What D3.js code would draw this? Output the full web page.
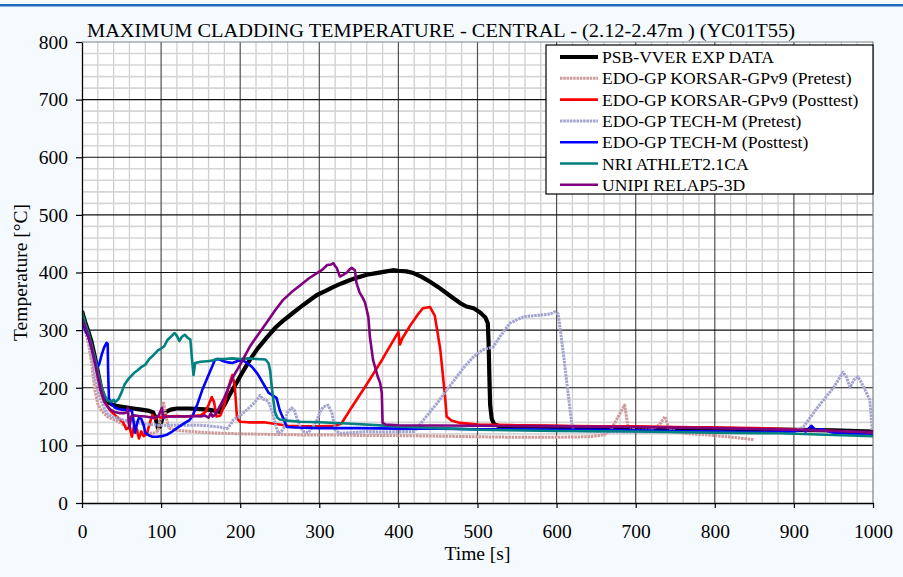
<!DOCTYPE html>
<html>
<head>
<meta charset="utf-8">
<script src="https://cdn.jsdelivr.net/npm/d3@7"></script>
<style>
  html, body { margin: 0; padding: 0; background: #f5faff; }
  svg { display: block; }
  text { font-family: "Liberation Serif", "Times New Roman", serif; fill: #000; }
</style>
</head>
<body>
<svg id="chart" width="903" height="577"></svg>
<script>
// Maximum cladding temperature, central channel (2.12-2.47 m), YC01T55
const chartTitle = "MAXIMUM CLADDING TEMPERATURE - CENTRAL - (2.12-2.47m ) (YC01T55)";
const xTicks = [0, 100, 200, 300, 400, 500, 600, 700, 800, 900, 1000];
const yTicks = [0, 100, 200, 300, 400, 500, 600, 700, 800];
const seriesNames = [
  "PSB-VVER EXP DATA",
  "EDO-GP KORSAR-GPv9 (Pretest)",
  "EDO-GP KORSAR-GPv9 (Posttest)",
  "EDO-GP TECH-M (Pretest)",
  "EDO-GP TECH-M (Posttest)",
  "NRI ATHLET2.1CA",
  "UNIPI RELAP5-3D"
];

// [time s, temperature °C]
const psbExp = [[0,333],[4,314],[8,298],[12,280],[16,255],[20,228],[24,200],[28,184],[32,176],[38,171],[45,168],[55,166],[65,164],[75,162],[85,160],[90,157],[93,148],[96,130],[99,133],[102,150],[106,158],[112,162],[120,164],[135,164],[150,163],[160,162],[168,160],[174,158],[180,170],[186,186],[191,198],[200,220],[212,248],[222,268],[234,288],[245,305],[254,316],[265,328],[276,340],[287,351],[297,361],[308,368],[318,375],[328,381],[339,387],[350,392],[360,396],[372,399],[385,402],[393,404],[400,403],[410,402],[419,399],[430,392],[440,384],[450,375],[461,364],[470,355],[478,347],[486,341],[495,338],[503,331],[510,322],[513,312],[514,280],[515,220],[516,170],[518,146],[521,137],[526,134],[550,133],[600,132],[650,131],[700,130],[750,130],[800,129],[850,128],[900,127],[950,126],[1000,124]];
const korsarPre = [[0,320],[4,298],[8,278],[12,245],[16,198],[20,172],[24,162],[28,155],[32,150],[38,146],[45,142],[52,136],[60,130],[68,127],[75,124],[82,122],[90,121],[96,125],[100,150],[103,176],[106,150],[110,130],[120,126],[140,124],[160,122],[180,121],[200,120],[240,119],[280,118],[320,118],[360,117],[400,117],[450,116],[500,115],[550,114],[600,114],[640,115],[660,118],[669,128],[678,150],[686,170],[690,135],[700,126],[720,127],[730,136],[737,150],[742,128],[760,121],[800,117],[830,113],[849,110]];
const korsarPost = [[0,322],[4,305],[8,292],[12,272],[16,245],[20,215],[24,190],[28,175],[32,168],[36,160],[42,152],[48,145],[52,140],[56,128],[60,132],[63,115],[66,135],[69,128],[72,112],[75,124],[78,116],[82,120],[86,140],[89,153],[92,146],[96,150],[100,148],[104,152],[110,150],[120,151],[130,150],[140,151],[150,152],[156,158],[160,170],[164,184],[167,175],[170,150],[175,152],[180,170],[185,200],[190,222],[193,205],[196,147],[200,141],[210,140],[230,140],[245,137],[260,134],[280,133],[300,133],[320,134],[328,138],[340,164],[360,206],[380,250],[400,297],[402,275],[405,286],[415,308],[425,328],[431,338],[440,340],[446,325],[449,300],[453,266],[459,184],[461,150],[467,143],[478,139],[500,136],[550,135],[600,134],[650,133],[700,133],[750,132],[800,131],[850,130],[900,128],[950,125],[1000,120]];
const techPre = [[0,322],[4,305],[8,290],[12,262],[16,225],[20,196],[24,178],[28,165],[32,155],[38,150],[45,147],[55,143],[65,141],[75,138],[86,136],[100,135],[120,135],[149,135],[165,133],[174,132],[183,129],[188,136],[191,144],[198,150],[200,152],[208,161],[215,170],[221,179],[225,187],[229,180],[233,179],[237,172],[241,156],[245,135],[248,121],[252,124],[256,132],[259,156],[265,165],[268,162],[271,150],[276,132],[280,124],[286,122],[292,132],[297,144],[301,158],[305,167],[311,170],[316,156],[320,127],[326,121],[340,122],[360,124],[380,123],[400,124],[420,124],[427,136],[440,158],[450,175],[461,196],[470,212],[482,234],[495,254],[507,266],[520,271],[528,288],[541,312],[550,318],[558,323],[570,325],[579,326],[592,328],[598,332],[602,328],[608,266],[613,208],[619,139],[622,126],[650,124],[700,123],[750,123],[800,122],[850,122],[890,123],[905,127],[912,132],[930,166],[950,200],[962,227],[966,220],[971,201],[976,214],[981,219],[985,210],[990,196],[996,179],[999,127],[1000,120]];
const techPost = [[0,318],[4,300],[8,288],[12,270],[16,250],[20,236],[22,242],[25,258],[28,270],[31,278],[32.5,276],[33,230],[34,182],[37,172],[42,165],[50,162],[58,161],[63,160],[65,144],[67,122],[70,140],[72,148],[75,146],[78,135],[80,122],[85,117],[89,115],[95,115],[101,116],[108,119],[114,124],[120,130],[130,139],[136,144],[140,152],[146,172],[152,196],[160,222],[168,248],[172,250],[177,247],[185,244],[190,243],[196,246],[202,248],[208,244],[215,236],[222,224],[228,210],[236,191],[242,186],[246,182],[250,161],[255,145],[259,132],[270,131],[300,130],[350,130],[400,129],[450,129],[500,128],[550,128],[600,127],[650,127],[700,126],[750,125],[800,124],[850,123],[900,124],[910,127],[915,124],[922,134],[928,126],[935,128],[950,122],[1000,118]];
const athlet = [[0,332],[4,312],[8,296],[12,276],[16,254],[20,228],[24,205],[28,188],[32,178],[36,176],[40,179],[42,175],[46,180],[50,192],[54,206],[58,214],[62,220],[66,226],[70,230],[75,236],[80,240],[85,250],[90,256],[96,265],[100,268],[104,272],[108,283],[112,288],[117,295],[120,290],[123,281],[126,288],[130,292],[134,286],[137,284],[139,250],[141,222],[143,243],[150,245],[158,246],[165,247],[170,250],[180,250],[190,251],[200,250],[210,251],[220,250],[232,249],[236,242],[238,228],[240,200],[242,178],[244,158],[247,148],[250,145],[260,143],[276,141],[300,140],[335,138],[400,133],[450,130],[503,127],[600,125],[700,124],[800,122],[882,121],[950,118],[1000,116]];
const relap = [[0,320],[4,305],[8,290],[12,270],[16,245],[20,220],[24,195],[28,178],[32,168],[36,162],[41,158],[47,156],[54,156],[57,158],[58,165],[59,140],[60,130],[62,150],[66,152],[72,151],[80,150],[90,148],[96,150],[99,158],[101,165],[103,148],[108,150],[120,150],[130,150],[140,151],[150,150],[155,152],[160,148],[163,156],[165,150],[168,153],[172,162],[180,183],[191,219],[200,240],[212,271],[223,293],[234,314],[244,334],[254,352],[265,366],[276,378],[287,390],[297,399],[304,405],[310,413],[315,414],[318,416],[320,411],[322,408],[326,393],[330,396],[335,400],[338,405],[341,408],[345,404],[347,382],[351,365],[355,356],[358,347],[362,323],[364,288],[368,248],[374,219],[377,208],[379,191],[380,139],[384,136],[400,135],[500,134],[600,133],[700,132],[800,130],[900,127],[1000,123]];

const seriesData = [psbExp, korsarPre, korsarPost, techPre, techPost, athlet, relap];
const seriesStyle = [
  { color: "#000000", width: 4.2, dash: null },
  { color: "#cf9a9a", width: 3,   dash: "2.5,0.8" },
  { color: "#ff0000", width: 2.6, dash: null },
  { color: "#a4a4d0", width: 3,   dash: "2.5,0.8" },
  { color: "#0000ff", width: 2.6, dash: null },
  { color: "#008080", width: 2.6, dash: null },
  { color: "#800080", width: 2.6, dash: null }
];

const svg = d3.select("#chart");
const W = 903, H = 577;
const plot = { left: 82, right: 873, top: 42, bottom: 503 };

const x = d3.scaleLinear().domain([0, 1000]).range([plot.left, plot.right]);
const y = d3.scaleLinear().domain([0, 800]).range([plot.bottom, plot.top]);

// page background and header rule
svg.append("rect").attr("width", W).attr("height", H).attr("fill", "#f5faff");
svg.append("rect").attr("x", 0).attr("y", 4).attr("width", W).attr("height", 2.5).attr("fill", "#1c6cbd");

// plot area
svg.append("rect")
  .attr("x", plot.left).attr("y", plot.top)
  .attr("width", plot.right - plot.left).attr("height", plot.bottom - plot.top)
  .attr("fill", "#ffffff");

// minor grid (20 s / 20 °C)
const grid = svg.append("g");
const minorX = d3.range(20, 1000, 20).filter(v => v % 100 !== 0);
const minorY = d3.range(20, 800, 20).filter(v => v % 100 !== 0);
grid.selectAll(".mx").data(minorX).join("line")
  .attr("x1", d => x(d)).attr("x2", d => x(d))
  .attr("y1", plot.top).attr("y2", plot.bottom)
  .attr("stroke", "#cfcfcf").attr("stroke-width", 1.3);
grid.selectAll(".my").data(minorY).join("line")
  .attr("x1", plot.left).attr("x2", plot.right)
  .attr("y1", d => y(d)).attr("y2", d => y(d))
  .attr("stroke", "#d6d6d6").attr("stroke-width", 1.6);
// major grid
grid.selectAll(".Mx").data(xTicks.slice(1, -1)).join("line")
  .attr("x1", d => x(d)).attr("x2", d => x(d))
  .attr("y1", plot.top).attr("y2", plot.bottom)
  .attr("stroke", "#505050").attr("stroke-width", 1.2);
grid.selectAll(".My").data(yTicks.slice(1, -1)).join("line")
  .attr("x1", plot.left).attr("x2", plot.right)
  .attr("y1", d => y(d)).attr("y2", d => y(d))
  .attr("stroke", "#111111").attr("stroke-width", 1.2);

// plot frame (top and right)
svg.append("path")
  .attr("d", `M${plot.left},${plot.top}H${plot.right}V${plot.bottom}`)
  .attr("fill", "none").attr("stroke", "#808080").attr("stroke-width", 1.2);

// series
const line = d3.line().x(d => x(d[0])).y(d => y(d[1]));
const clipId = "plotClip";
svg.append("clipPath").attr("id", clipId).append("rect")
  .attr("x", plot.left).attr("y", plot.top)
  .attr("width", plot.right - plot.left).attr("height", plot.bottom - plot.top);
const lines = svg.append("g").attr("clip-path", `url(#${clipId})`);
seriesData.forEach((data, i) => {
  const s = seriesStyle[i];
  lines.append("path")
    .datum(data)
    .attr("d", line)
    .attr("fill", "none")
    .attr("stroke", s.color)
    .attr("stroke-width", s.width)
    .attr("stroke-linejoin", "round")
    .attr("stroke-dasharray", s.dash);
});

// axes
const axisFont = 19.5;
const yAxis = svg.append("g").attr("transform", `translate(${plot.left},0)`)
  .call(d3.axisLeft(y).tickValues(yTicks).tickFormat(d3.format("d"))
    .tickSize(6).tickPadding(8).tickSizeOuter(0));
const xAxis = svg.append("g").attr("transform", `translate(0,${plot.bottom})`)
  .call(d3.axisBottom(x).tickValues(xTicks).tickFormat(d3.format("d"))
    .tickSize(5).tickPadding(16).tickSizeOuter(0));
[yAxis, xAxis].forEach(a => {
  a.select(".domain").attr("stroke", "#000").attr("stroke-width", 1.3);
  a.selectAll(".tick line").attr("stroke", "#000").attr("stroke-width", 1.2);
  a.selectAll(".tick text")
    .attr("font-family", "Liberation Serif, serif")
    .attr("font-size", axisFont).attr("fill", "#000");
});

// titles
svg.append("text")
  .attr("x", 87).attr("y", 37)
  .attr("font-size", 19.5)
  .attr("textLength", 708).attr("lengthAdjust", "spacingAndGlyphs")
  .text(chartTitle);
svg.append("text")
  .attr("x", (plot.left + plot.right) / 2).attr("y", 560)
  .attr("text-anchor", "middle").attr("font-size", axisFont)
  .text("Time [s]");
svg.append("text")
  .attr("transform", `translate(27,${(plot.top + plot.bottom) / 2}) rotate(-90)`)
  .attr("text-anchor", "middle").attr("font-size", axisFont)
  .text("Temperature [°C]");

// legend
const legend = svg.append("g").attr("transform", "translate(546,45)");
legend.append("rect")
  .attr("width", 327).attr("height", 149)
  .attr("fill", "#ffffff").attr("stroke", "#000").attr("stroke-width", 1.2);
const rows = legend.selectAll(".row").data(seriesNames).join("g")
  .attr("transform", (d, i) => `translate(0,${12 + i * 21.3})`);
rows.append("line")
  .attr("x1", 14).attr("x2", 52).attr("y1", 0).attr("y2", 0)
  .attr("stroke", (d, i) => seriesStyle[i].color)
  .attr("stroke-width", (d, i) => seriesStyle[i].width)
  .attr("stroke-dasharray", (d, i) => seriesStyle[i].dash);
rows.append("text")
  .attr("x", 56).attr("y", 6)
  .attr("font-size", 17.6)
  .text(d => d);
</script>
</body>
</html>
